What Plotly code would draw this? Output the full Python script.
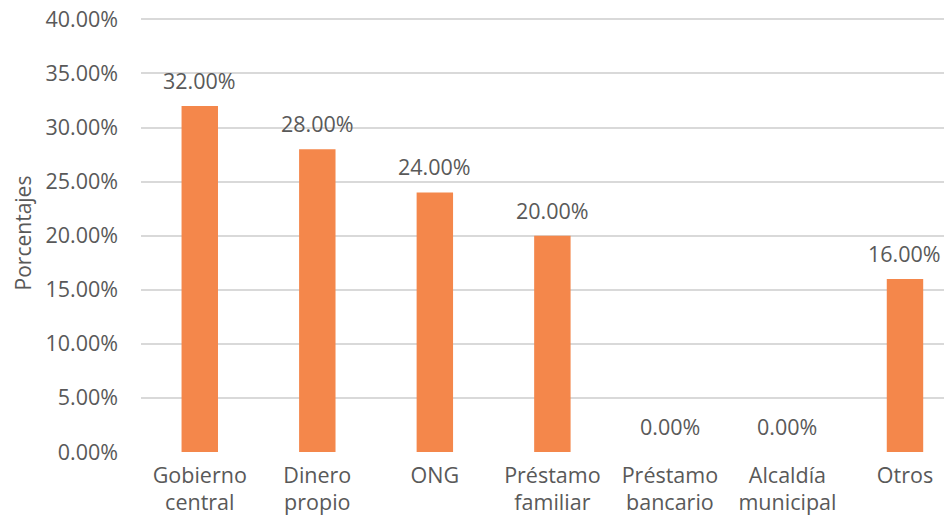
import plotly.graph_objects as go

categories = ["Gobierno<br>central", "Dinero<br>propio", "ONG", "Préstamo<br>familiar",
              "Préstamo<br>bancario", "Alcaldía<br>municipal", "Otros"]
values = [32.0, 28.0, 24.0, 20.0, 0.0, 0.0, 16.0]
tick_vals = [0, 5, 10, 15, 20, 25, 30, 35, 40]
tick_text = [f"{v:.2f}%" for v in tick_vals]
value_labels = [f"{v:.2f}%" for v in values]

FONT = "Open Sans"
GRAY = "#595959"
BAR = "#F4874B"
FS = 21.5

fig = go.Figure()
fig.add_trace(go.Bar(
    x=list(range(len(categories))), y=values,
    marker=dict(color=BAR, line=dict(width=0)),
    width=0.31, hoverinfo="skip",
))

for i, (v, t) in enumerate(zip(values, value_labels)):
    fig.add_annotation(x=i, y=v, text=t, showarrow=False, yanchor="bottom",
                       yshift=9, font=dict(family=FONT, size=FS, color=GRAY))

# page body has an 8px margin: figure is shifted by 8px right and down
fig.update_layout(
    width=944, height=515,
    margin=dict(l=133, r=0, t=6, b=71, autoexpand=False),
    paper_bgcolor="white", plot_bgcolor="white",
    showlegend=False,
    font=dict(family=FONT, color=GRAY, size=FS),
)
fig.update_xaxes(
    tickmode="array", tickvals=list(range(len(categories))), ticktext=categories,
    range=[-0.5, 6.4], showgrid=False, zeroline=False, showline=False,
    tickfont=dict(family=FONT, size=FS, color=GRAY), ticks="", ticklabelstandoff=8,
    automargin=False,
)
fig.update_yaxes(
    range=[0, 40.5], tickvals=tick_vals, ticktext=tick_text,
    showgrid=True, gridcolor="#D9D9D9", gridwidth=2,
    zeroline=False, showline=False, ticks="", automargin=False,
    ticklabeloverflow="allow",
    tickfont=dict(family=FONT, size=FS, color=GRAY), ticklabelstandoff=22,
    title=dict(text="Porcentajes", font=dict(family=FONT, size=FS - 0.5, color=GRAY), standoff=8),
)

fig.write_html("out.html")
